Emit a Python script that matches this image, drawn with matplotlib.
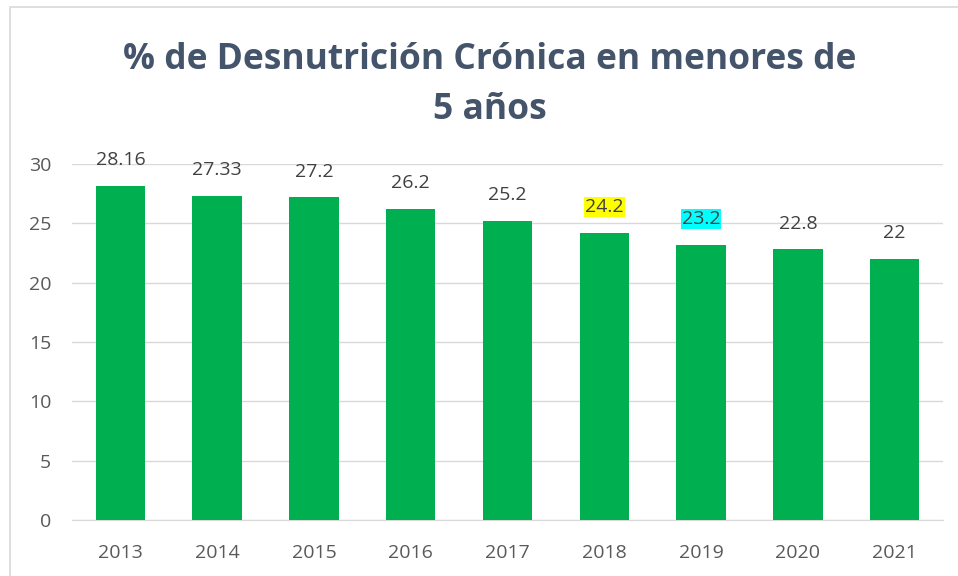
import matplotlib
matplotlib.use("Agg")
import matplotlib.pyplot as plt
from matplotlib.patches import Rectangle

years = ["2013", "2014", "2015", "2016", "2017", "2018", "2019", "2020", "2021"]
values = [28.16, 27.33, 27.2, 26.2, 25.2, 24.2, 23.2, 22.8, 22]
labels = ["28.16", "27.33", "27.2", "26.2", "25.2", "24.2", "23.2", "22.8", "22"]
highlights = {5: "#FFFF00", 6: "#00FFFF"}
yticks = [0, 5, 10, 15, 20, 25, 30]

plt.rcParams['font.family'] = ['Open Sans', 'DejaVu Sans']

fig = plt.figure(figsize=(9.58, 5.76), dpi=100)
fig.patches.append(Rectangle((10/958, -0.05), 1.1, 1.05 - 7/576, transform=fig.transFigure,
                             fill=False, edgecolor="#D9D9D9", linewidth=1.2, clip_on=False))
ax = fig.add_axes([72/958, 1 - 520/576, (943 - 72)/958, (520 - 164)/576])

x = range(len(years))
ax.bar(x, values, width=0.51, color="#00B050", zorder=3)
ax.set_xlim(-0.5, len(years) - 0.5)
ax.set_ylim(0, 30)
ax.set_yticks(yticks)
ax.set_xticks(list(x))
ax.set_xticklabels(years)
ax.yaxis.grid(True, color="#D9D9D9", linewidth=1, zorder=0)
for s in ax.spines.values():
    s.set_visible(False)
ax.spines['bottom'].set_visible(True)
ax.spines['bottom'].set_color("#D9D9D9")
ax.tick_params(axis='both', length=0, labelsize=14, colors="#595959")
ax.tick_params(axis='x', pad=17)
ax.tick_params(axis='y', pad=15)

for i, (v, lab) in enumerate(zip(values, labels)):
    kw = {}
    if i in highlights:
        kw['bbox'] = dict(boxstyle="square,pad=0.05", facecolor=highlights[i], edgecolor="none")
    ax.annotate(lab, (i, v), xytext=(0, 12), textcoords="offset points",
                ha="center", va="bottom", fontsize=14, color="#404040",
                annotation_clip=False, **kw)

fig.text(490/958, 1 - 60/576, "% de Desnutrición Crónica en menores de",
         ha="center", va="center", fontsize=25.5, fontweight="bold", color="#44546A")
fig.text(490/958, 1 - 110/576, "5 años",
         ha="center", va="center", fontsize=25.5, fontweight="bold", color="#44546A")

fig.savefig("out.png", dpi=100)
